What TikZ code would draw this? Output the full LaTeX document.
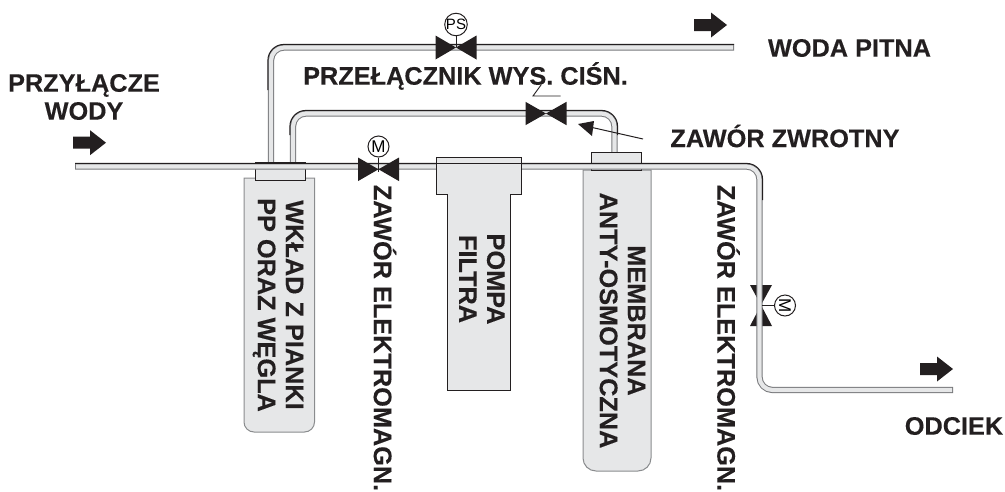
\documentclass[tikz,border=0pt]{standalone}
\usepackage{fontspec}
\setmainfont{Liberation Sans}[BoldFeatures={FakeBold=0.25}]
\definecolor{fillg}{HTML}{E6E7E8}
\definecolor{ink}{HTML}{231F20}
\definecolor{edgeg}{HTML}{8A8C8E}
\definecolor{pipeedge}{HTML}{77787B}
\tikzset{
  lbl/.style={font=\fontsize{25.3}{28}\selectfont\bfseries,text=ink,inner sep=0pt,align=center},
  vlbl/.style={lbl,rotate=-90},
  pipeo/.style={draw=pipeedge,line width=6.2pt,line join=round,rounded corners=13pt},
  pipei/.style={draw=fillg,line width=4.2pt,line join=round,rounded corners=13pt,shorten >=1pt,shorten <=1pt},
  pipetop/.style={draw=ink,line width=1pt,rounded corners=16pt},
  vbody/.style={fill=ink,draw=none},
  motor/.style={circle,draw=ink,fill=white,line width=1pt,minimum size=21pt,inner sep=0pt,font=\fontsize{15}{15}\selectfont},
  stem/.style={draw=ink,line width=0.9pt},
  bodybox/.style={draw=edgeg,fill=fillg,line width=1pt},
  capbox/.style={draw=ink,fill=fillg,line width=1pt},
  blockarrow/.style={fill=ink,draw=none},
}
\begin{document}
\begin{tikzpicture}[x=1pt,y=-1pt]
\useasboundingbox (0,0) rectangle (1005,491);
% coordinates
\coordinate (mainL) at (75,166.5);
\coordinate (mainC) at (759.5,166.5);
\coordinate (mainD) at (759.5,390);
\coordinate (mainE) at (953,390);
\coordinate (upA) at (271,170);
\coordinate (upB) at (271,47.5);
\coordinate (upE) at (734,47.5);
\coordinate (lowA) at (293,170);
\coordinate (lowB) at (293,113.5);
\coordinate (lowC) at (614.5,113.5);
\coordinate (lowD) at (614.5,160);
% bodies below pipes
\draw[bodybox] (244,178) -- (314.5,178) -- (314.5,422) arc[start angle=0,end angle=90,radius=10] -- (254,432) arc[start angle=90,end angle=180,radius=10] -- cycle;
\draw[bodybox] (583,170) -- (651,170) -- (651,458) arc[start angle=0,end angle=90,radius=13] -- (596,471) arc[start angle=90,end angle=180,radius=13] -- cycle;
% branch pipes
\foreach \st in {pipeo,pipei}{
 \draw[\st] (upA) -- (upB) -- (upE);
 \draw[\st] (lowA) -- (lowB) -- (lowC) -- (lowD);
}
\draw[pipetop] (267.9,90) -- (267.9,44.4) -- (734,44.4);
\draw[pipetop] (289.9,135) -- (289.9,110.4) -- (617.6,110.4) -- (617.6,135);
% caps
\node[capbox,rectangle,inner sep=0pt,minimum height=18pt,text width=50pt] (cap1) at (280.5,171.5) {};
\node[capbox,rectangle,inner sep=0pt,minimum height=18.5pt,text width=50pt] (cap3) at (616.7,161.3) {};
% drain valve sits under the pipe
\fill[vbody] (750,285) -- (761,305) -- (772,285) -- cycle;
\fill[vbody] (750,326) -- (761,305) -- (772,326) -- cycle;
% main pipe
\foreach \st in {pipeo,pipei}{
 \draw[\st] (mainL) -- (mainC) -- (mainD) -- (mainE);
}
\draw[pipetop] (75,163.4) -- (762.6,163.4) -- (762.6,200);
% pump over the pipe; only the pipe's top line shows through it
\draw[capbox] (436.7,157) -- (521.7,157) -- (521.7,194) -- (510.7,194) -- (510.7,390) -- (447,390) -- (447,194) -- (436.7,194) -- cycle;
\draw[draw=ink,line width=1pt] (437.2,163.4) -- (521.2,163.4);
% valves
\newcommand{\hvalve}[3]{\fill[vbody] (#1-20.5,#2-#3) -- (#1,#2) -- (#1-20.5,#2+#3) -- cycle; \fill[vbody] (#1+20.5,#2-#3) -- (#1,#2) -- (#1+20.5,#2+#3) -- cycle;}
\hvalve{456}{47.5}{12}
\hvalve{378.5}{169.3}{11.8}
\hvalve{546}{113.5}{11.7}
\node[motor] (ps) at (456,24.5) {PS};
\node[motor,font=\fontsize{17}{17}\selectfont] (m1) at (378.5,146.5) {M};
\node[motor,font=\fontsize{17}{17}\selectfont,rotate=-90] (m2) at (785,305.5) {M};
\coordinate (psv) at (456,47);
\coordinate (m1v) at (378.5,171.7);
\coordinate (m2v) at (762,305.5);
\draw[stem] (ps) -- (psv);
\draw[stem] (m1) -- (m1v);
\draw[stem] (m2) -- (m2v);
% check valve symbol
\coordinate (cva) at (533,96);
\coordinate (cvb) at (560.5,96);
\coordinate (cvc) at (541,85);
\draw[stem] (cvb) -- (cva) -- (cvc);
% pointer arrow
\coordinate (pt) at (643,139);
\coordinate (ph) at (590,127);
\draw[draw=ink,line width=1pt] (pt) -- (ph);
\fill[vbody] (578,124) -- (594,121) -- (592,136) -- cycle;
% block arrows
\newcommand{\blockarr}[2]{\fill[blockarrow] (#1,#2-6) -- (#1+17,#2-6) -- (#1+17,#2-12.5) -- (#1+33,#2) -- (#1+17,#2+12.5) -- (#1+17,#2+6) -- (#1,#2+6) -- cycle;}
\blockarr{73}{142.7}
\blockarr{694}{25}
\blockarr{920}{369}
% labels
\node[lbl] (t1) at (84,97) {PRZYŁĄCZE\\WODY};
\node[lbl] (t2) at (465.5,76) {PRZEŁĄCZNIK WYS. CIŚN.};
\node[lbl] (t3) at (849.5,48) {WODA PITNA};
\node[lbl] (t4) at (785,136) {ZAWÓR ZWROTNY};
\node[lbl] (t5) at (954,426) {ODCIEK};
\node[vlbl] (t6) at (278,305) {WKŁAD Z PIANKI\\PP ORAZ WĘGLA};
\node[vlbl] (t7) at (385,338) {ZAWÓR ELEKTROMAGN.};
\node[vlbl] (t8) at (482,279) {POMPA\\FILTRA};
\node[vlbl] (t9) at (622.5,320.5) {MEMBRANA\\ANTY-OSMOTYCZNA};
\node[vlbl] (t10) at (728.5,338) {ZAWÓR ELEKTROMAGN.};
\end{tikzpicture}
\end{document}
